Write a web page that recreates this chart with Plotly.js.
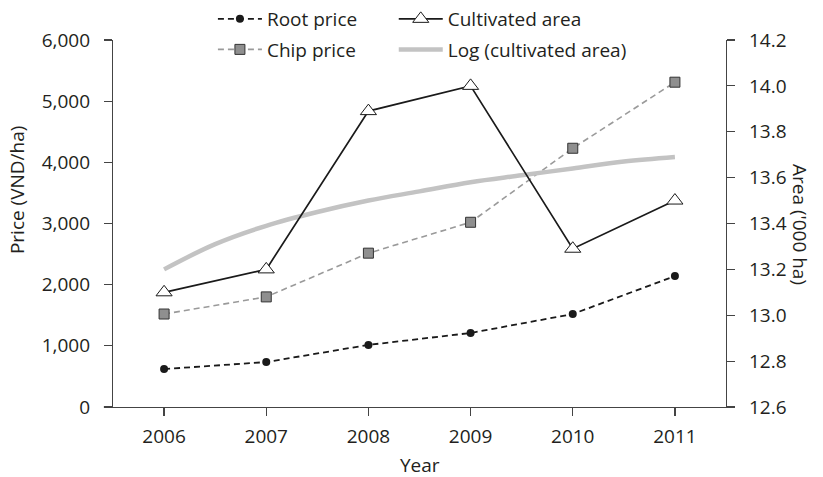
<!DOCTYPE html>
<html>
<head>
<meta charset="utf-8">
<script src="https://cdn.plot.ly/plotly-3.0.1.min.js"></script>
<style>html,body{margin:0;padding:0;background:#fff;}#chart{width:823px;height:477px;}</style>
</head>
<body>
<div id="chart"></div>
<script>
// Data
const years = [2006, 2007, 2008, 2009, 2010, 2011];
const rootPrice = [620, 735, 1015, 1210, 1520, 2140];
const chipPrice = [1520, 1800, 2515, 3020, 4230, 5310];
const cultivatedArea = [13.10, 13.20, 13.89, 14.00, 13.29, 13.50];
const logYears = [2006, 2006.5, 2007, 2007.5, 2008, 2008.5, 2009, 2009.5, 2010, 2010.5, 2011];
const logArea = [13.20, 13.31, 13.39, 13.45, 13.50, 13.54, 13.58, 13.61, 13.64, 13.67, 13.69];
const xTickVals = [2006, 2007, 2008, 2009, 2010, 2011];
const xTickText = ['2006', '2007', '2008', '2009', '2010', '2011'];

const FONT = '"Open Sans", "Noto Sans", sans-serif';
const FS = 19;
const TXT = '#231f20';

const traces = [
  {
    x: logYears, y: logArea, yaxis: 'y2', name: 'Log (cultivated area)',
    mode: 'lines', line: {color: '#c3c3c3', width: 4.5, shape: 'spline'},
    legend: 'legend4'
  },
  {
    x: years, y: chipPrice, name: 'Chip price', mode: 'lines+markers',
    line: {color: '#9a9a9a', width: 1.6, dash: '6px,4px'},
    marker: {symbol: 'square', size: 10, color: '#8f8f8f', line: {color: '#333', width: 1}},
    legend: 'legend3'
  },
  {
    x: years, y: rootPrice, name: 'Root price', mode: 'lines+markers',
    line: {color: '#1a1a1a', width: 1.8, dash: '6px,4px'},
    marker: {symbol: 'circle', size: 8, color: '#1a1a1a'},
    legend: 'legend'
  },
  {
    x: years, y: cultivatedArea, yaxis: 'y2', name: 'Cultivated area', mode: 'lines+markers',
    line: {color: '#1a1a1a', width: 1.7},
    marker: {symbol: 'triangle-up', size: 14, color: '#ffffff', line: {color: '#1a1a1a', width: 1}},
    legend: 'legend2'
  }
];

function leg(x, y) {
  return {x: x, y: y, xref: 'paper', yref: 'container', xanchor: 'left', yanchor: 'top',
          itemwidth: 44,
          bgcolor: 'rgba(0,0,0,0)', borderwidth: 0, font: {family: FONT, size: FS, color: TXT}};
}

const axisCommon = {
  showline: true, linecolor: '#444', linewidth: 1.2,
  ticks: 'outside', ticklen: 8, tickcolor: '#444', tickwidth: 1.2,
  showgrid: false, zeroline: false,
  tickfont: {family: FONT, size: FS, color: TXT}
};

const layout = {
  width: 823, height: 477,
  margin: {l: 113, r: 97, t: 40, b: 70, pad: 0, autoexpand: false},
  paper_bgcolor: '#fff', plot_bgcolor: '#fff',
  font: {family: FONT, size: FS, color: TXT},
  showlegend: true,
  legend: leg(0.163, 1.0),
  legend3: leg(0.163, 0.936),
  legend2: leg(0.458, 1.0),
  legend4: leg(0.458, 0.936),
  xaxis: Object.assign({}, axisCommon, {
    range: [2005.5, 2011.5], tickvals: xTickVals, ticktext: xTickText, ticklabelstandoff: 4
  }),
  yaxis: Object.assign({}, axisCommon, {
    range: [0, 6000], dtick: 1000, tickformat: ',d', ticklabelstandoff: 10
  }),
  yaxis2: Object.assign({}, axisCommon, {
    overlaying: 'y', side: 'right', range: [12.6, 14.2], dtick: 0.2, tickformat: '.1f',
    ticklabelstandoff: 10
  }),
  shapes: [
    {type: 'line', xref: 'paper', yref: 'paper', x0: -0.015, x1: 0, y0: 0, y1: 0,
     line: {color: '#444', width: 1.2}}
  ],
  annotations: [
    {text: 'Price (VND/ha)', xref: 'paper', yref: 'paper', x: -0.1566, y: 0.591,
     xanchor: 'center', yanchor: 'middle', textangle: -90, showarrow: false,
     font: {family: FONT, size: FS, color: TXT}},
    {text: "Area ('000 ha)", xref: 'paper', yref: 'paper', x: 1.1207, y: 0.496,
     xanchor: 'center', yanchor: 'middle', textangle: 90, showarrow: false,
     font: {family: FONT, size: FS, color: TXT}},
    {text: 'Year', xref: 'paper', yref: 'paper', x: 0.5, y: -0.158,
     xanchor: 'center', yanchor: 'middle', showarrow: false, borderpad: 0,
     font: {family: FONT, size: FS, color: TXT}}
  ]
};

Plotly.newPlot('chart', traces, layout, {displayModeBar: false, staticPlot: true});
</script>
</body>
</html>
